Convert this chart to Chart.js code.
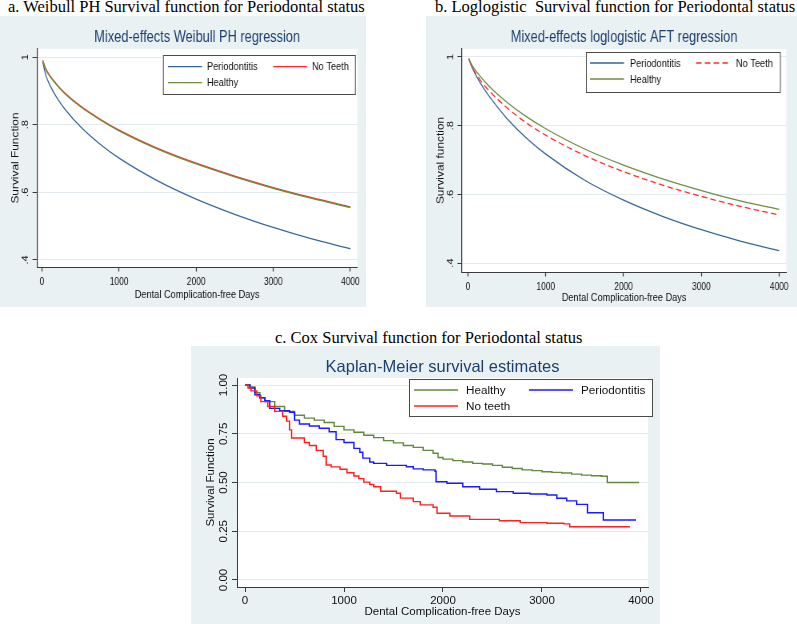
<!DOCTYPE html>
<html>
<head>
<meta charset="utf-8">
<title>Survival functions for Periodontal status</title>
<script src="https://cdn.jsdelivr.net/npm/chart.js@4.4.1/dist/chart.umd.min.js"></script>
<style>
  body { margin: 0; width: 797px; height: 624px; position: relative; overflow: hidden; background: #fff; }
  .caption { position: absolute; font-family: 'Liberation Serif', 'Times New Roman', serif; font-size: 16.5px; line-height: 17px; white-space: pre; color: #000; }
  canvas { position: absolute; background: #eaf1f3; }
  /* panels a and b were exported squeezed sideways */
  .squeezed { transform: scaleX(0.8); transform-origin: 0 0; }
</style>
</head>
<body>
<div class="caption" style="left:8px; top:-2px">a. Weibull PH Survival function for Periodontal status</div>
<div class="caption" style="left:435px; top:-2px">b. Loglogistic  Survival function for Periodontal status</div>
<div class="caption" style="left:275px; top:329px">c. Cox Survival function for Periodontal status</div>
<canvas id="chartA" class="squeezed" width="458" height="291" style="left:0; top:16px"></canvas>
<canvas id="chartB" class="squeezed" width="464" height="291" style="left:426px; top:16px"></canvas>
<canvas id="chartC" width="469" height="278" style="left:191px; top:346px"></canvas>
<script>
// data
const xTickValues = [0, 1000, 2000, 3000, 4000]
const yTickValuesAB = [0.4, 0.6, 0.8, 1]
const yTickLabelsAB = ['.4', '.6', '.8', '1']
const yTickValuesC = [0, 0.25, 0.5, 0.75, 1]
const yTickLabelsC = ['0.00', '0.25', '0.50', '0.75', '1.00']

// a. Weibull PH / b. loglogistic AFT model curves
const daysModel = [10, 50, 100, 200, 300, 500, 750, 1000, 1500, 2000, 2500, 3000, 3500, 4000]
const weibullPerio = [0.985, 0.946, 0.918, 0.877, 0.845, 0.794, 0.743, 0.701, 0.634, 0.58, 0.535, 0.496, 0.462, 0.433]
const weibullNoTeeth = [0.99, 0.965, 0.946, 0.917, 0.893, 0.855, 0.817, 0.784, 0.73, 0.686, 0.648, 0.614, 0.584, 0.557]
const weibullHealthy = [0.99, 0.963, 0.944, 0.915, 0.891, 0.853, 0.815, 0.782, 0.728, 0.684, 0.646, 0.612, 0.582, 0.555]
const loglogPerio = [0.995, 0.971, 0.948, 0.909, 0.877, 0.821, 0.764, 0.717, 0.641, 0.583, 0.536, 0.497, 0.464, 0.436]
const loglogNoTeeth = [0.995, 0.971, 0.952, 0.92, 0.895, 0.852, 0.808, 0.772, 0.713, 0.666, 0.627, 0.594, 0.565, 0.54]
const loglogHealthy = [0.995, 0.977, 0.96, 0.932, 0.908, 0.868, 0.826, 0.791, 0.732, 0.685, 0.645, 0.611, 0.581, 0.556]

// c. Kaplan-Meier steps
const kmHealthyDays = [0, 50, 100, 150, 200, 300, 400, 500, 600, 700, 800, 900, 1000, 1100, 1200, 1300, 1400, 1500, 1600, 1700, 1800, 1900, 1950, 2000, 2100, 2200, 2300, 2400, 2500, 2600, 2700, 2800, 2900, 3000, 3100, 3200, 3300, 3400, 3500, 3600, 3660, 3980]
const kmHealthy = [1, 0.99, 0.96, 0.935, 0.915, 0.89, 0.865, 0.845, 0.83, 0.82, 0.808, 0.788, 0.77, 0.758, 0.742, 0.73, 0.715, 0.703, 0.69, 0.68, 0.665, 0.65, 0.628, 0.62, 0.612, 0.605, 0.598, 0.595, 0.588, 0.578, 0.572, 0.565, 0.561, 0.555, 0.552, 0.549, 0.543, 0.538, 0.535, 0.532, 0.5, 0.5]
const kmPerioDays = [0, 50, 100, 150, 200, 250, 350, 450, 500, 550, 650, 750, 850, 920, 1000, 1100, 1160, 1190, 1260, 1300, 1430, 1630, 1700, 1800, 1920, 1930, 2040, 2200, 2370, 2540, 2710, 2880, 3050, 3150, 3250, 3350, 3460, 3620, 3950]
const kmPerio = [1, 0.985, 0.95, 0.935, 0.92, 0.88, 0.868, 0.86, 0.82, 0.8, 0.79, 0.778, 0.76, 0.72, 0.705, 0.675, 0.655, 0.625, 0.605, 0.598, 0.588, 0.581, 0.57, 0.565, 0.558, 0.504, 0.496, 0.478, 0.465, 0.453, 0.445, 0.441, 0.436, 0.419, 0.406, 0.388, 0.345, 0.308, 0.308]
const kmNoTeethDays = [0, 30, 60, 120, 160, 230, 300, 380, 420, 450, 470, 600, 650, 720, 790, 820, 870, 960, 1030, 1100, 1150, 1200, 1260, 1300, 1370, 1530, 1570, 1700, 1770, 1900, 1940, 2070, 2270, 2570, 2780, 3050, 3220, 3280, 3890]
const kmNoTeeth = [1, 0.985, 0.97, 0.945, 0.915, 0.89, 0.865, 0.84, 0.815, 0.77, 0.728, 0.705, 0.69, 0.665, 0.635, 0.59, 0.58, 0.568, 0.55, 0.533, 0.52, 0.502, 0.49, 0.478, 0.455, 0.445, 0.42, 0.402, 0.385, 0.373, 0.342, 0.328, 0.311, 0.304, 0.294, 0.291, 0.288, 0.273, 0.273]

const squeeze = 0.8
const titleColor = '#1c3f6e'
const axisColor = '#3a3a3a'
const gridColor = '#e4ecef'
const inkColor = '#111111'
const sans = "'Liberation Sans', Arial, sans-serif"

const plotBackground = {
  id: 'plotBackground',
  beforeDraw(chart) {
    const { ctx, chartArea: a } = chart
    ctx.save()
    ctx.fillStyle = '#ffffff'
    ctx.fillRect(a.left, a.top, a.right - a.left, a.bottom - a.top)
    ctx.restore()
  },
}

// Stata writes the y labels turned on their side
const rotatedYLabels = {
  id: 'rotatedYLabels',
  afterDraw(chart, args, opts) {
    const { ctx } = chart
    const y = chart.scales.y
    ctx.save()
    ctx.font = opts.font
    ctx.fillStyle = inkColor
    ctx.textAlign = 'center'
    ctx.textBaseline = 'middle'
    y.ticks.forEach((t) => {
      ctx.save()
      ctx.translate(opts.x, y.getPixelForValue(t.value))
      ctx.rotate(-Math.PI / 2)
      ctx.fillText(opts.labels[opts.values.indexOf(t.value)], 0, 0)
      ctx.restore()
    })
    ctx.restore()
  },
}

const boxLegend = {
  id: 'boxLegend',
  afterDraw(chart, args, o) {
    const { ctx } = chart
    ctx.save()
    ctx.fillStyle = '#ffffff'
    ctx.fillRect(o.x, o.y, o.w, o.h)
    ctx.strokeStyle = '#4a4a4a'
    ctx.lineWidth = 1
    ctx.strokeRect(o.x + 0.5, o.y + 0.5, o.w, o.h)
    ctx.font = o.font
    ctx.textBaseline = 'middle'
    chart.data.datasets.forEach((ds, i) => {
      const col = o.cols[i % 2]
      const row = o.rows[Math.floor(i / 2)]
      ctx.strokeStyle = ds.borderColor
      ctx.lineWidth = ds.borderWidth
      ctx.setLineDash(ds.borderDash || [])
      ctx.beginPath()
      ctx.moveTo(col, row)
      ctx.lineTo(col + o.lineLen, row)
      ctx.stroke()
      ctx.setLineDash([])
      ctx.fillStyle = inkColor
      ctx.fillText(ds.label, col + o.lineLen + o.gap, row + 0.5)
    })
    ctx.restore()
  },
}

const series = (label, days, surv, color, extra) => ({
  label,
  data: days.map((d, i) => ({ x: d, y: surv[i] })),
  borderColor: color,
  borderWidth: 1.3,
  pointRadius: 0,
  fill: false,
  ...extra,
})

function survivalChart(id, datasets, s) {
  return new Chart(document.getElementById(id), {
    type: 'line',
    data: { datasets },
    plugins: [plotBackground, rotatedYLabels, boxLegend],
    options: {
      responsive: false,
      animation: false,
      devicePixelRatio: 1,
      layout: { autoPadding: false, padding: { left: 0, right: s.padRight, top: 0, bottom: 0 } },
      plugins: {
        legend: { display: false },
        tooltip: { enabled: false },
        title: {
          display: true,
          text: s.title,
          color: titleColor,
          fullSize: false,
          font: { family: sans, size: s.titleSize, weight: 'normal' },
          padding: { top: s.titleTop, bottom: s.titleBottom },
        },
        rotatedYLabels: { x: s.yLabelX, font: s.yTickSize + 'px ' + sans, values: s.yTicks, labels: s.yLabels },
        boxLegend: s.legend,
      },
      scales: {
        x: {
          type: 'linear',
          min: s.xMin,
          max: s.xMax,
          afterBuildTicks: (scale) => { scale.ticks = xTickValues.map((v) => ({ value: v })) },
          afterFit: (scale) => { scale.height = s.xHeight },
          ticks: {
            color: inkColor,
            autoSkip: false,
            maxRotation: 0,
            padding: s.xTickPad,
            font: { family: sans, size: s.xTickSize },
            callback: (v) => String(v),
          },
          grid: { drawOnChartArea: false, tickLength: s.xTickLen, tickWidth: s.xTickWidth, tickColor: axisColor },
          border: { color: axisColor, width: 1 },
          title: {
            display: true,
            text: 'Dental Complication-free Days',
            color: inkColor,
            font: { family: sans, size: s.xTitleSize },
            padding: { top: 0, bottom: s.xTitlePad },
          },
        },
        y: {
          type: 'linear',
          min: s.yMin,
          max: s.yMax,
          afterBuildTicks: (scale) => { scale.ticks = s.yTicks.map((v) => ({ value: v })) },
          afterFit: (scale) => { scale.width = s.yWidth },
          ticks: { display: false },
          grid: { color: gridColor, lineWidth: 1, tickLength: s.yTickLen, tickColor: axisColor },
          border: { color: axisColor, width: s.yBorderWidth },
          title: {
            display: true,
            text: s.yTitle,
            color: inkColor,
            font: { family: sans, size: s.yTitleSize },
            padding: { top: s.yTitlePad, bottom: 0 },
          },
        },
      },
    },
  })
}

const q = (px) => px / squeeze

survivalChart('chartA', [
  series('Periodontitis', daysModel, weibullPerio, '#34659a', { order: 3, cubicInterpolationMode: 'monotone' }),
  series('No Teeth', daysModel, weibullNoTeeth, '#ff2a2a', { order: 2, cubicInterpolationMode: 'monotone' }),
  series('Healthy', daysModel, weibullHealthy, '#6d8c3c', { order: 1, cubicInterpolationMode: 'monotone' }),
], {
  title: 'Mixed-effects Weibull PH regression',
  titleSize: 16, titleTop: 11.9, titleBottom: 1.9,
  xTickSize: 10.5, yTickSize: 11, xTitleSize: 11.5, yTitleSize: 11.9,
  xTickLen: 4.5, xTickWidth: q(1), yTickLen: q(4.5), yBorderWidth: q(1),
  padRight: q(9), xHeight: 40, yWidth: q(37),
  xMin: -65, xMax: 4091, yMin: 0.379, yMax: 1.024,
  xTickPad: 4.7, xTitlePad: 5.6, yTitlePad: q(15.8) - 7.1, yLabelX: q(25.5),
  yTicks: yTickValuesAB, yLabels: yTickLabelsAB, yTitle: 'Survival Function',
  legend: { x: q(163), y: 39, w: q(192), h: 39, cols: [q(168), q(273)], rows: [50.7, 66.7], lineLen: q(34), gap: q(5), font: '11.5px ' + sans },
})

survivalChart('chartB', [
  series('Periodontitis', daysModel, loglogPerio, '#34659a', { order: 3, cubicInterpolationMode: 'monotone' }),
  series('No Teeth', daysModel, loglogNoTeeth, '#ff2a2a', { order: 2, cubicInterpolationMode: 'monotone', borderDash: [7, 4] }),
  series('Healthy', daysModel, loglogHealthy, '#6d8c3c', { order: 1, cubicInterpolationMode: 'monotone' }),
], {
  title: 'Mixed-effects loglogistic AFT regression',
  titleSize: 16, titleTop: 11.6, titleBottom: 2.2,
  xTickSize: 10.5, yTickSize: 11, xTitleSize: 11.5, yTitleSize: 11.9,
  xTickLen: 4.5, xTickWidth: q(1), yTickLen: q(4.5), yBorderWidth: q(1),
  padRight: q(11), xHeight: 35, yWidth: q(36),
  xMin: -77, xMax: 4090, yMin: 0.374, yMax: 1.023,
  xTickPad: 4.7, xTitlePad: 2.6, yTitlePad: q(14.8) - 7.1, yLabelX: q(25),
  yTicks: yTickValuesAB, yLabels: yTickLabelsAB, yTitle: 'Survival function',
  legend: { x: q(160), y: 36, w: q(194), h: 40, cols: [q(164), q(270)], rows: [47, 63], lineLen: q(34), gap: q(6), font: '11.5px ' + sans },
})

survivalChart('chartC', [
  series('Healthy', kmHealthyDays, kmHealthy, '#62893c', { order: 3, stepped: true, borderWidth: 1.4 }),
  series('Periodontitis', kmPerioDays, kmPerio, '#1a1aff', { order: 2, stepped: true, borderWidth: 1.4 }),
  series('No teeth', kmNoTeethDays, kmNoTeeth, '#ff2020', { order: 1, stepped: true, borderWidth: 1.4 }),
], {
  title: 'Kaplan-Meier survival estimates',
  titleSize: 16.5, titleTop: 11.1, titleBottom: 1.1,
  xTickSize: 11.5, yTickSize: 11.5, xTitleSize: 11.5, yTitleSize: 11.5,
  xTickLen: 5, xTickWidth: 1, yTickLen: 5, yBorderWidth: 1,
  padRight: 12, xHeight: 37, yWidth: 46,
  xMin: -81, xMax: 4071, yMin: -0.036, yMax: 1.036,
  xTickPad: 1.6, xTitlePad: 5.1, yTitlePad: 12.9, yLabelX: 33.3,
  yTicks: yTickValuesC, yLabels: yTickLabelsC, yTitle: 'Survival Function',
  legend: { x: 218, y: 33, w: 243, h: 37, cols: [223, 338], rows: [44, 60], lineLen: 44, gap: 8, font: '11.7px ' + sans },
})
</script>
</body>
</html>
